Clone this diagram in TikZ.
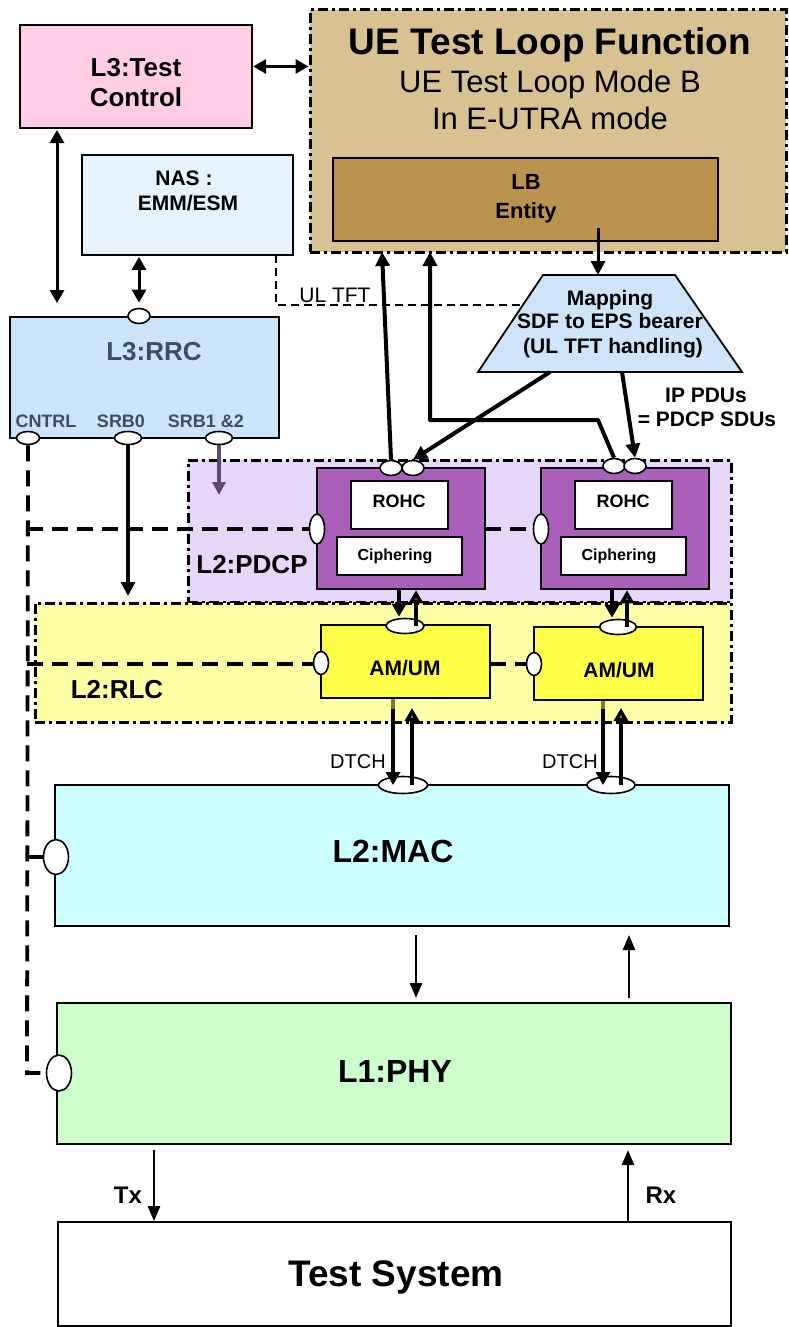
\documentclass[tikz,border=0pt]{standalone}
\usepackage{fontspec}
\setmainfont{Liberation Sans}
\usetikzlibrary{arrows.meta,shapes.geometric,fit,calc}
\definecolor{tcpink}{RGB}{255,206,230}
\definecolor{uetan}{RGB}{216,194,146}
\definecolor{lbbrown}{RGB}{186,148,78}
\definecolor{nasblue}{RGB}{230,243,252}
\definecolor{rrcblue}{RGB}{204,228,250}
\definecolor{rrctext}{RGB}{60,78,98}
\definecolor{pdcpreg}{RGB}{232,214,248}
\definecolor{pdcpent}{RGB}{170,96,186}
\definecolor{rlcreg}{RGB}{255,255,165}
\definecolor{rlcent}{RGB}{255,255,72}
\definecolor{macfill}{RGB}{204,255,255}
\definecolor{phyfill}{RGB}{204,255,204}
\definecolor{mapfill}{RGB}{206,228,248}
\definecolor{purplehead}{RGB}{92,72,112}
\definecolor{olivehead}{RGB}{132,122,32}
\newcommand\fsz[2]{\fontsize{#1}{#2}\selectfont}
\begin{document}
\begin{tikzpicture}[x=1pt,y=-1pt,
  box/.style={draw, line width=2.2pt, inner sep=0pt},
  thinbox/.style={draw, line width=1.8pt, inner sep=0pt},
  region/.style={draw, line width=3pt, dash pattern=on 10pt off 4pt on 3pt off 4pt, inner sep=0pt},
  port/.style={ellipse, draw, fill=white, line width=1.6pt, inner sep=0pt},
  lbl/.style={anchor=base, inner sep=0pt},
  b26/.style={lbl, font=\fsz{26}{30}\bfseries},
  b21/.style={lbl, font=\fsz{21}{25}\bfseries},
  b18/.style={lbl, font=\fsz{18}{21}\bfseries},
  darr/.style={line width=3pt, {Triangle[length=13pt,width=14pt]}-{Triangle[length=13pt,width=14pt]}},
  arr/.style={line width=4pt, -{Triangle[length=14pt,width=14pt]}},
  marr/.style={line width=3.5pt, -{Triangle[length=13pt,width=14pt]}},
  parr/.style={line width=2.6pt, -{Triangle[length=15pt,width=12pt]}},
  cdash/.style={line width=3.8pt, dash pattern=on 16pt off 9pt},
]
\useasboundingbox (0,0) rectangle (788,1327);

% ---------- regions ----------
\node[region, fill=uetan, fit={(310,10)(786,252)}] (ue) {};
\node[region, fill=pdcpreg, fit={(188,460)(731,602)}] (pdcp) {};
\node[region, fill=rlcreg, fit={(35,603)(731,722)}] (rlc) {};

% ---------- boxes ----------
\node[box, fill=tcpink, fit={(20,25)(252,128)}] (tc) {};
\node[b26] at (136,77) {L3:Test};
\node[b26] at (136,107) {Control};

\node[lbl, font=\fsz{37}{42}\bfseries] at (550,55) {UE Test Loop Function};
\node[lbl, font=\fsz{31}{36}] at (550,93) {UE Test Loop Mode B};
\node[lbl, font=\fsz{31}{36}] at (550,129) {In E-UTRA mode};

\node[box, fill=lbbrown, fit={(333,158)(718,241)}] (lb) {};
\node[lbl, font=\fsz{22}{26}\bfseries] at (526,189) {LB};
\node[lbl, font=\fsz{22}{26}\bfseries] at (526,218) {Entity};

\node[thinbox, fill=nasblue, fit={(82,155)(293,255)}] (nas) {};
\node[b21] at (184,185) {NAS :};
\node[b21] at (188,210) {EMM/ESM};

\node[box, fill=rrcblue, fit={(10,317)(279,438)}] (rrc) {};
\node[b26, text=rrctext] at (154,360) {L3:RRC};
\node[b18, text=rrctext] at (46,427) {CNTRL};
\node[b18, text=rrctext] at (121,427) {SRB0};
\node[b18, text=rrctext] at (206,427) {SRB1 \&2};

% mapping trapezoid
\draw[line width=1.8pt, fill=mapfill] (543,275) -- (675,275) -- (742,372) -- (478,372) -- cycle;
\node[b21] (map) at (610,305) {Mapping};
\node[b21] at (610,328) {SDF to EPS bearer};
\node[b21] at (613,353) {(UL TFT handling)};
\node[b21] at (706,402) {IP PDUs};
\node[b21] at (707,426) {= PDCP SDUs};

% PDCP entities
\node[box, line width=2.5pt, fill=pdcpent, fit={(317,468)(485,589)}] (pe1) {};
\node[box, line width=2.5pt, fill=pdcpent, fit={(541,468)(709,589)}] (pe2) {};
\node[box, fill=white, fit={(351,481)(448,529)}] (rohc1) {};
\node[box, fill=white, fit={(575,481)(672,529)}] (rohc2) {};
\node[box, fill=white, fit={(337,537)(462,575)}] (ciph1) {};
\node[box, fill=white, fit={(561,537)(686,575)}] (ciph2) {};
\node[b18] at (399,507) {ROHC};
\node[b18] at (623,507) {ROHC};
\node[lbl, font=\fsz{16}{19}\bfseries] at (395,560) {Ciphering};
\node[lbl, font=\fsz{16}{19}\bfseries] at (619,560) {Ciphering};
\node[b26] at (252,573) {L2:PDCP};

% RLC entities
\node[thinbox, fill=rlcent, fit={(321,625)(490,698)}] (re1) {};
\node[thinbox, fill=rlcent, fit={(534,627)(703,700)}] (re2) {};
\node[b21] at (405,675) {AM/UM};
\node[b21] at (619,677) {AM/UM};
\node[b26] at (117,698) {L2:RLC};

% MAC / PHY / Test system
\node[thinbox, fill=macfill, fit={(55,785)(729,926)}] (mac) {};
\node[lbl, font=\fsz{32}{36}\bfseries] at (393,862) {L2:MAC};
\node[thinbox, fill=phyfill, fit={(57,1003)(731,1144)}] (phy) {};
\node[lbl, font=\fsz{32}{36}\bfseries] at (395,1082) {L1:PHY};
\node[thinbox, fill=white, fit={(58,1222)(731,1326)}] (ts) {};
\node[lbl, font=\fsz{37}{42}\bfseries] at (396,1286) {Test System};

% ---------- connectors ----------
% UL TFT dashed
\coordinate (tftA) at (276,255);
\coordinate (tftB) at (523,305);
\draw[line width=1.6pt, dash pattern=on 8pt off 5pt] (tftA) |- (tftB);
\node[lbl, font=\fsz{21}{25}] at (335,302) {UL TFT};

% CNTRL dashed line and branches
\coordinate (cB) at (27,1073);
\coordinate (cP) at (27,529);
\coordinate (cR) at (27,664);
\coordinate (cM) at (27,857);

% ports
\node[port, minimum width=22pt, minimum height=15pt] (rtop) at (139,316) {};
\node[port, minimum width=23pt, minimum height=13pt] (pcntrl) at (28,438) {};
\node[port, minimum width=27pt, minimum height=13pt] (psrb0) at (128,438) {};
\node[port, minimum width=27pt, minimum height=13pt] (psrb1) at (219,438) {};

\draw[cdash] (pcntrl.south) -- (cB) -- ++(17,0);
\draw[cdash] (cP) -- (310,529);
\draw[cdash] (cR) -- (313,664);
\draw[line width=3.5pt] (cM) -- (44,857);

\draw[cdash] (485,529) -- (534,529);
\draw[cdash] (490,664) -- (527,664);

\node[port, minimum width=15pt, minimum height=30pt] (pl1) at (317,529) {};
\node[port, minimum width=15pt, minimum height=30pt] (pl2) at (541,529) {};
\node[port, minimum width=15pt, minimum height=23pt] (rl1) at (321,663) {};
\node[port, minimum width=15pt, minimum height=23pt] (rl2) at (534,664) {};
\node[port, minimum width=25pt, minimum height=35pt] (macp) at (56,857) {};
\node[port, minimum width=25pt, minimum height=36pt] (phyp) at (59,1073) {};

\node[port, minimum width=22pt, minimum height=15pt] (pa1) at (391,468) {};
\node[port, minimum width=22pt, minimum height=15pt] (pb1) at (413,468) {};
\node[port, minimum width=22pt, minimum height=15pt] (pa2) at (614,466) {};
\node[port, minimum width=22pt, minimum height=15pt] (pb2) at (635,466) {};
\node[port, minimum width=38pt, minimum height=15pt] (rt1) at (405,626) {};
\node[port, minimum width=37pt, minimum height=15pt] (rt2) at (618,627) {};
\node[port, minimum width=49pt, minimum height=17pt] (mt1) at (403,785) {};
\node[port, minimum width=48pt, minimum height=17pt] (mt2) at (611,785) {};

% Test control links
\draw[darr] ([yshift=10pt]tc.east) -- ([yshift=10pt]tc.east -| ue.west);
\coordinate (x57a) at (57,130);
\coordinate (x57b) at (57,303);
\draw[darr] (x57a) -- (x57b);
\draw[darr] ([yshift=-1pt]nas.south -| rtop) -- ([yshift=5pt]rtop.north);

% RRC SRB arrows
\coordinate (srb0end) at (128,596);
\draw[arr, line width=3.2pt] (psrb0.south) -- (srb0end);
\coordinate (srb1end) at (219,495);
\draw[line width=3.2pt, draw=purplehead, -{Triangle[length=13pt,width=13pt]}] (psrb1.south) -- (srb1end);

% LB -> mapping
\coordinate (lbout) at (598,228);
\coordinate (mapin) at (598,275);
\draw[arr, line width=3pt] (lbout) -- (mapin);

% PDCP -> UE test loop
\coordinate (ueIn1) at (382,252);
\draw[arr] (pa1.north) -- (ueIn1);
\coordinate (bend1) at (598,420);
\coordinate (bend2) at (430,420);
\coordinate (ueIn2) at (430,252);
\draw[arr, line join=round] (pa2.north) -- (bend1) -- (bend2) -- (ueIn2);

% mapping -> PDCP
\coordinate (mapout1) at (550,372);
\coordinate (mapout2) at (622,372);
\draw[arr] (mapout1) -- (pb1.north);
\draw[arr] (mapout2) -- (pb2.north);

% PDCP <-> RLC
\draw[marr] (pe1.south -| 399,0) -- ([yshift=1pt]rt1.north -| 399,0);
\draw[marr, -{Triangle[length=13pt,width=14pt,fill=purplehead]}] (rt1.center -| 416,0) -- (pe1.south -| 416,0);
\draw[marr] (pe2.south -| 612,0) -- ([yshift=1pt]rt2.north -| 612,0);
\draw[marr, -{Triangle[length=13pt,width=14pt,fill=purplehead]}] (rt2.center -| 627,0) -- (pe2.south -| 627,0);

% RLC <-> MAC
\coordinate (d1a) at (393,709);
\coordinate (u1b) at (412,708);
\coordinate (d2a) at (603,709);
\coordinate (u2b) at (621,708);
\draw[line width=3.5pt, olivehead] (393,699) -- (d1a);
\draw[line width=3.5pt, olivehead] (603,701) -- (d2a);
\draw[marr] (d1a) -- (d1a |- mt1.center);
\draw[marr, -{Triangle[length=13pt,width=14pt,fill=olivehead]}] (mt1.center -| u1b) -- (u1b);
\draw[marr] (d2a) -- (d2a |- mt2.center);
\draw[marr, -{Triangle[length=13pt,width=14pt,fill=olivehead]}] (mt2.center -| u2b) -- (u2b);
\node[lbl, font=\fsz{20}{24}] at (358,768) {DTCH};
\node[lbl, font=\fsz{20}{24}] at (570,768) {DTCH};

% MAC <-> PHY
\coordinate (mp1a) at (416,935);
\coordinate (mp1b) at (416,998);
\coordinate (mp2a) at (629,998);
\coordinate (mp2b) at (629,935);
\draw[parr] (mp1a) -- (mp1b);
\draw[parr] (mp2a) -- (mp2b);

% PHY <-> Test system
\coordinate (txa) at (154,1150);
\coordinate (rxb) at (628,1150);
\draw[parr] (txa) -- (txa |- ts.north);
\draw[parr] (rxb |- ts.north) -- (rxb);
\node[lbl, font=\fsz{24}{28}\bfseries] at (128,1203) {Tx};
\node[lbl, font=\fsz{24}{28}\bfseries] at (661,1203) {Rx};
\end{tikzpicture}
\end{document}
